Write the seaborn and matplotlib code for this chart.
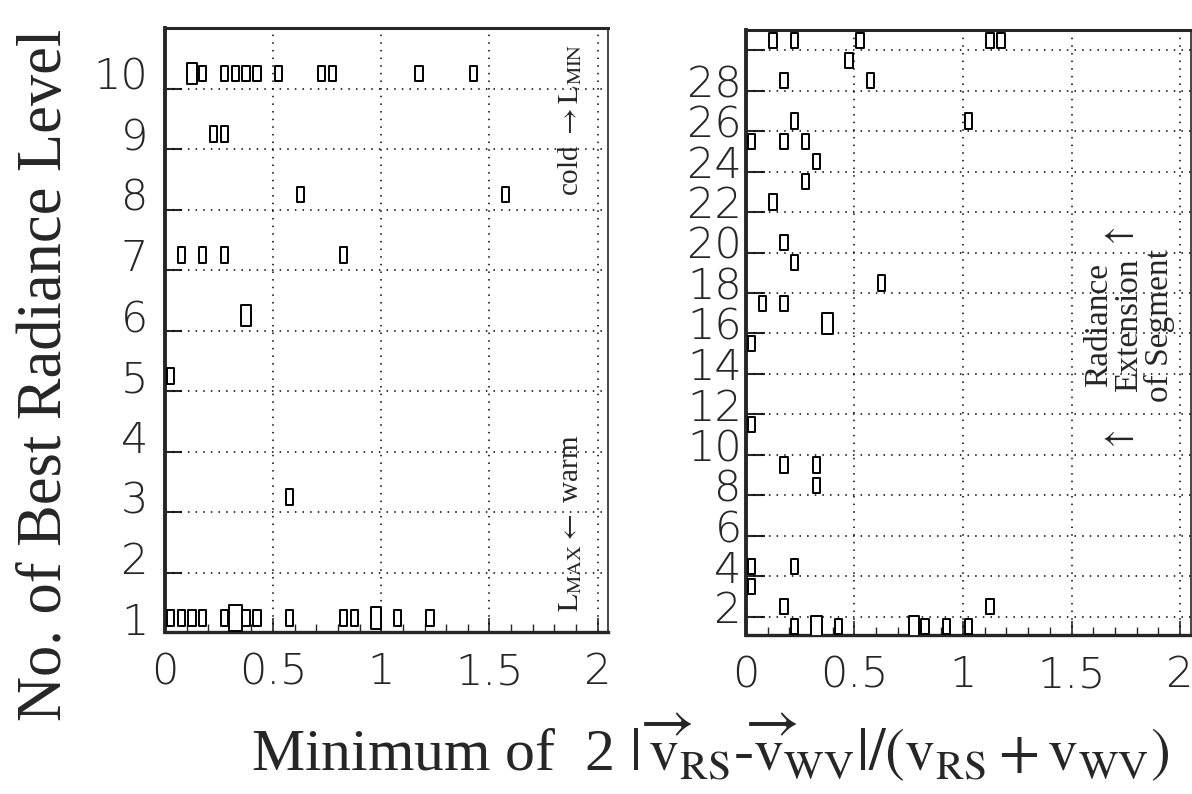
import numpy as np
import pandas as pd
import matplotlib
matplotlib.use('Agg')
import matplotlib.pyplot as plt
import seaborn as sns
from matplotlib.path import Path
from matplotlib.ticker import MultipleLocator, FixedLocator

# left panel: best radiance level (1..10), bin centre of minimum velocity difference, entries
left_level = [10] * 11 + [9] * 2 + [8] * 2 + [7] * 4 + [6, 5, 3] + [1] * 14
left_x = [0.125, 0.175, 0.275, 0.325, 0.375, 0.425, 0.525, 0.725, 0.775, 1.175, 1.425,
          0.225, 0.275,
          0.625, 1.575,
          0.075, 0.175, 0.275, 0.825,
          0.375, 0.025, 0.575,
          0.025, 0.075, 0.125, 0.175, 0.275, 0.325, 0.375, 0.425, 0.575, 0.825,
          0.875, 0.975, 1.075, 1.225]
left_count = [2, 1, 1, 1, 1, 1, 1, 1, 1, 1, 1,
              1, 1,
              1, 1,
              1, 1, 1, 1,
              2, 1, 1,
              1, 1, 1, 1, 1, 3, 1, 1, 1, 1,
              1, 2, 1, 1]

# right panel: best radiance level when the segment is extended (1..30)
right_level = [30] * 5 + [29] + [28] * 2 + [26] * 2 + [25] * 3 + [24, 23, 22, 20, 19, 18] \
    + [17] * 2 + [16, 15, 11] + [9] * 2 + [8] + [4] * 2 + [3] + [2] * 2 + [1] * 7
right_x = [0.125, 0.225, 0.525, 1.125, 1.175,
           0.475,
           0.175, 0.575,
           0.225, 1.025,
           0.025, 0.175, 0.275,
           0.325, 0.275, 0.125, 0.175, 0.225, 0.625,
           0.075, 0.175,
           0.375, 0.025, 0.025,
           0.175, 0.325,
           0.325,
           0.025, 0.225,
           0.025,
           0.175, 1.125,
           0.225, 0.325, 0.425, 0.775, 0.825, 0.925, 1.025]
right_count = [1] * 21 + [2] + [1] * 10 + [1, 2, 1, 2, 1, 1, 1]

left_yticks = list(range(1, 11))
right_yticks = list(range(2, 29, 2))
x_ticks = [0, 0.5, 1, 1.5, 2]
x_ticklabels = ['0', '0.5', '1', '1.5', '2']

sns.set_style('ticks')
plt.rcParams['font.family'] = ['Liberation Serif', 'DejaVu Serif']
plt.rcParams['mathtext.fontset'] = 'stix'

# tall open box, PAW "BOX" style
box = Path([(-0.24, -0.5), (0.24, -0.5), (0.24, 0.5), (-0.24, 0.5), (-0.24, -0.5)],
           [Path.MOVETO, Path.LINETO, Path.LINETO, Path.LINETO, Path.CLOSEPOLY])
box_area = {1: 120, 2: 240, 3: 360}

df_left = pd.DataFrame({'x': left_x, 'level': left_level, 'count': left_count})
df_right = pd.DataFrame({'x': right_x, 'level': right_level, 'count': right_count})

fig = plt.figure(figsize=(11.92, 7.94), dpi=100)
ax1 = fig.add_axes([0.1384, 0.204, 0.372, 0.7607])
ax2 = fig.add_axes([0.6258, 0.2003, 0.3733, 0.7619])

tick_font = {'family': 'DejaVu Sans', 'weight': 'light', 'size': 31}


def draw_panel(ax, df, ylim, yticks, grid_y, ytick_len):
    sns.scatterplot(data=df, x='x', y='level', size='count', sizes=box_area,
                    marker=box, facecolor='white', edgecolor='black',
                    linewidth=1.4, legend=False, ax=ax, zorder=3)
    ax.set_xlim(0, 2.05)
    ax.set_ylim(*ylim)
    ax.set_xlabel('')
    ax.set_ylabel('')

    ax.xaxis.set_major_locator(FixedLocator(x_ticks))
    ax.set_xticklabels(x_ticklabels, fontdict=tick_font)
    ax.xaxis.set_minor_locator(MultipleLocator(0.1))
    ax.yaxis.set_major_locator(FixedLocator(yticks))
    ax.set_yticklabels([str(t) for t in yticks], fontdict=tick_font)
    ax.yaxis.set_minor_locator(FixedLocator(grid_y))

    ax.tick_params(axis='x', which='major', direction='in', length=10, width=1.2, pad=14)
    ax.tick_params(axis='x', which='minor', direction='in', length=6, width=1.0)
    ax.tick_params(axis='y', which='major', length=0, pad=12)
    ax.tick_params(axis='y', which='minor', direction='in', length=ytick_len, width=1.5)

    ax.grid(False)
    for gx in [0.5, 1.0, 1.5, 2.0]:
        ax.axvline(gx, color='black', lw=1.1, ls=(0, (1, 4)), zorder=1)
    for gy in grid_y:
        ax.axhline(gy, color='black', lw=1.1, ls=(0, (1, 4)), zorder=1)

    ax.spines['left'].set_linewidth(2.8)
    ax.spines['bottom'].set_linewidth(2.4)
    ax.spines['top'].set_linewidth(2.2)
    ax.spines['right'].set_linewidth(1.2)


draw_panel(ax1, df_left, (0.77, 10.75), left_yticks, [k + 0.75 for k in range(1, 10)], 12)
draw_panel(ax2, df_right, (0.6, 30.5), right_yticks, [k + 0.5 for k in range(1, 30, 2)], 14)
ax2.tick_params(axis='y', which='major', pad=3)

ax1.text(0.914, 0.848, r'cold $\rightarrow \mathrm{L}_{\mathrm{MIN}}$', transform=ax1.transAxes,
         rotation=90, ha='center', va='center', fontsize=21)
ax1.text(0.914, 0.180, r'$\mathrm{L}_{\mathrm{MAX}} \leftarrow$ warm', transform=ax1.transAxes,
         rotation=90, ha='center', va='center', fontsize=21)

ax2.text(0.862, 0.512, 'Radiance\nExtension\nof Segment', transform=ax2.transAxes,
         rotation=90, ha='center', va='center', multialignment='center',
         fontsize=24, linespacing=0.98)
for ya in [0.661, 0.326]:
    ax2.text(0.829, ya, r'$\leftarrow$', transform=ax2.transAxes,
             ha='center', va='center', fontsize=26)

fig.text(0.039, 0.528, 'No. of Best Radiance Level', rotation=90,
         ha='center', va='center', fontsize=45)
fig.text(0.596, 0.058,
         r'Minimum of  2 $|\,\overrightarrow{\mathrm{v}}_{\mathrm{RS}}$-'
         r'$\overrightarrow{\mathrm{v}}_{\mathrm{WV}}|/(\mathrm{v}_{\mathrm{RS}}+\mathrm{v}_{\mathrm{WV}})$',
         ha='center', va='center', fontsize=43)

fig.savefig('out.png', dpi=100)
